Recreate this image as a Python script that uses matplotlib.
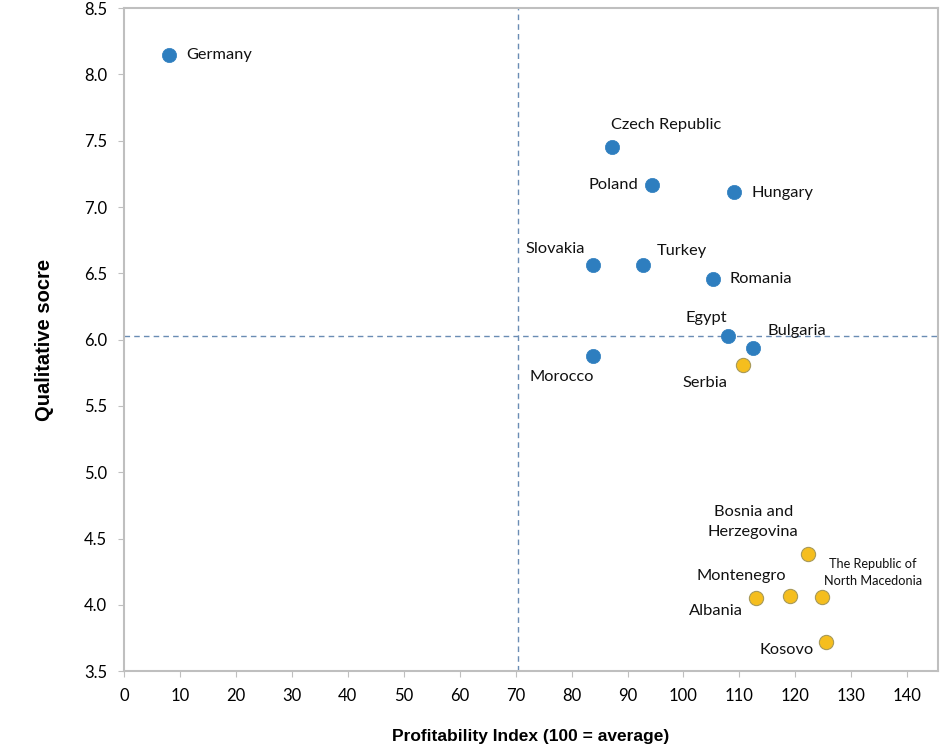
import matplotlib.pyplot as plt

# profitability index vs qualitative score
countries = ['Germany', 'Czech Republic', 'Poland', 'Hungary', 'Slovakia', 'Turkey',
             'Romania', 'Egypt', 'Bulgaria', 'Morocco', 'Serbia',
             'Bosnia and\nHerzegovina', 'Montenegro', 'Albania',
             'The Republic of\nNorth Macedonia', 'Kosovo']
profit_idx = [8.0, 87.3, 94.3, 109.1, 83.9, 92.7, 105.2, 108.0, 112.5, 83.9, 110.7,
              122.3, 119.1, 113.0, 124.8, 125.5]
qual_score = [8.15, 7.45, 7.17, 7.11, 6.56, 6.56, 6.46, 6.03, 5.94, 5.88, 5.81,
              4.38, 4.07, 4.05, 4.06, 3.72]
group = ['b', 'b', 'b', 'b', 'b', 'b', 'b', 'b', 'b', 'b', 'y',
         'y', 'y', 'y', 'y', 'y']
avg_profit = 70.5
avg_qual = 6.03

# label offsets in pixels (dx, dy, ha)
offsets = {
    'Germany': (17, 0, 'left'),
    'Czech Republic': (54, 22, 'center'),
    'Poland': (-13, 0, 'right'),
    'Hungary': (17, -1, 'left'),
    'Slovakia': (-38, 16, 'center'),
    'Turkey': (14, 14, 'left'),
    'Romania': (17, 0, 'left'),
    'Egypt': (-22, 18, 'center'),
    'Bulgaria': (14, 17, 'left'),
    'Morocco': (-32, -21, 'center'),
    'Serbia': (-38, -18, 'center'),
    'Bosnia and\nHerzegovina': (-55, 32, 'center'),
    'Montenegro': (-49, 20, 'center'),
    'Albania': (-40, -13, 'center'),
    'The Republic of\nNorth Macedonia': (51, 24, 'center'),
    'Kosovo': (-39, -8, 'center'),
}

fig = plt.figure(figsize=(9.41, 7.44), dpi=100)
ax = fig.add_axes([0.1318, 0.098, 0.865, 0.891])

blue = '#2E7EBF'
yellow = '#F5BE1E'
for c, x, y, g in zip(countries, profit_idx, qual_score, group):
    if g == 'b':
        ax.scatter(x, y, s=105, color=blue, edgecolors=blue, linewidths=0.5, zorder=3)
    else:
        ax.scatter(x, y, s=105, color=yellow, edgecolors='#A89A5A', linewidths=0.8, zorder=3)
    dx, dy, ha = offsets[c]
    fs = 9.2 if c.startswith('The Republic') else 11.8
    ax.annotate(c, (x, y), xytext=(dx, dy), textcoords='offset pixels',
                ha=ha, va='center', fontsize=fs, family='Lato', color='#111111',
                linespacing=1.5 if fs < 10 else 1.55)

ax.axvline(avg_profit, color='#6A8CB4', linestyle=(0, (4, 3)), linewidth=1.0, zorder=1)
ax.axhline(avg_qual, color='#6A8CB4', linestyle=(0, (4, 3)), linewidth=1.0, zorder=1)

ax.set_xlim(0, 145.5)
ax.set_ylim(3.5, 8.5)
ax.set_xticks(range(0, 141, 10))
ax.set_yticks([3.5, 4.0, 4.5, 5.0, 5.5, 6.0, 6.5, 7.0, 7.5, 8.0, 8.5])
ax.set_yticklabels(['%.1f' % v for v in ax.get_yticks()])

for s in ax.spines.values():
    s.set_color('#BFBFBF')
    s.set_linewidth(1.5)
ax.tick_params(axis='both', direction='out', length=4, color='#BFBFBF',
               labelsize=12, pad=8)
for lab in ax.get_xticklabels() + ax.get_yticklabels():
    lab.set_family('Lato')

ax.set_xlabel('Profitability Index (100 = average)', fontsize=12.5, fontweight='bold',
              family='Liberation Sans', labelpad=18)
ax.set_ylabel('Qualitative socre', fontsize=14.5, fontweight='bold',
              family='Liberation Sans', labelpad=22)

plt.savefig('out.png')
